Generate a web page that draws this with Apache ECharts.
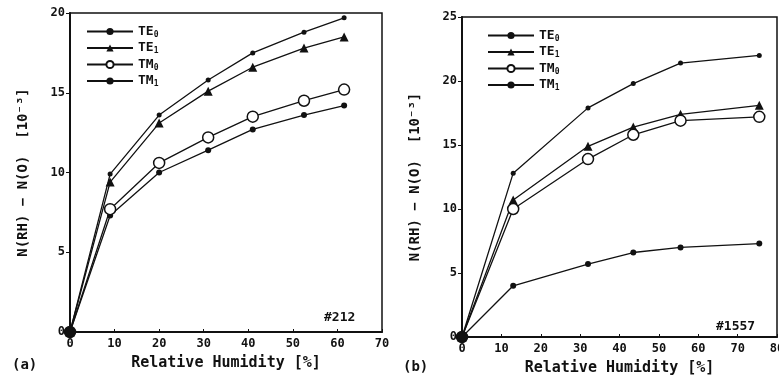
<!DOCTYPE html>
<html>
<head>
<meta charset="utf-8">
<script src="https://cdn.jsdelivr.net/npm/echarts@6/dist/echarts.min.js"></script>
<style>
  html, body { margin: 0; padding: 0; background: #fff; }
  #chart { width: 779px; height: 385px; }
</style>
</head>
<body>
<div id="chart"></div>
<script>
// panel (a) sample #212
const rhA = [0, 9, 20, 31, 41, 52.5, 61.5];
const te0A = [0, 9.9, 13.6, 15.8, 17.5, 18.8, 19.7];
const te1A = [0, 9.4, 13.1, 15.1, 16.6, 17.8, 18.5];
const tm0A = [0, 7.7, 10.6, 12.2, 13.5, 14.5, 15.2];
const tm1A = [0, 7.3, 10.0, 11.4, 12.7, 13.6, 14.2];

// panel (b) sample #1557
const rhB = [0, 13, 32, 43.5, 55.5, 75.5];
const te0B = [0, 12.8, 17.9, 19.8, 21.4, 22.0];
const te1B = [0, 10.7, 14.9, 16.4, 17.4, 18.1];
const tm0B = [0, 10.0, 13.9, 15.8, 16.9, 17.2];
const tm1B = [0, 4.0, 5.7, 6.6, 7.0, 7.3];

const seriesNames = ["TE0", "TE1", "TM0", "TM1"];

const FONT = "DejaVu Sans Mono";
const ink = "#111";

// origin is drawn as a solid dot in both panels
function pairs(xs, ys) {
  return xs.map((x, i) =>
    x === 0 ? { value: [x, ys[i]], itemStyle: { color: ink } } : [x, ys[i]]);
}

// marker look per mode
const markerStyle = {
  TE0: { symbol: "circle", symbolSize: 5, itemStyle: { color: ink } },
  TE1: { symbol: "triangle", symbolSize: 9, itemStyle: { color: ink } },
  TM0: { symbol: "circle", symbolSize: 11, itemStyle: { color: "#fff", borderColor: ink, borderWidth: 1.5 } },
  TM1: { symbol: "circle", symbolSize: 6, itemStyle: { color: ink } },
};

function makeSeries(name, idx, xs, ys) {
  return Object.assign({
    name: name,
    type: "line",
    xAxisIndex: idx,
    yAxisIndex: idx,
    data: pairs(xs, ys),
    lineStyle: { color: ink, width: 1.3 },
    showSymbol: true,
    animation: false,
    z: name === "TM0" ? 3 : 2,
  }, markerStyle[name]);
}

function xAxis(idx, max) {
  return {
    type: "value",
    gridIndex: idx,
    min: 0, max: max, interval: 10,
    name: "Relative Humidity [%]",
    nameLocation: "middle",
    nameGap: 24,
    nameTextStyle: { fontFamily: FONT, fontSize: 15, color: ink, fontWeight: "bold" },
    axisLine: { lineStyle: { color: ink, width: 2 } },
    axisTick: { inside: true, length: 3, lineStyle: { color: ink } },
    axisLabel: { fontFamily: FONT, fontSize: 12, fontWeight: "bold", color: ink, margin: 6 },
    splitLine: { show: false },
  };
}

function yAxis(idx, max) {
  return {
    type: "value",
    gridIndex: idx,
    min: 0, max: max, interval: 5,
    name: "N(RH) \u2212 N(O)  [10\u207B\u00B3]",
    nameLocation: "middle",
    nameGap: 40,
    nameRotate: 90,
    nameTextStyle: { fontFamily: FONT, fontSize: 14, color: ink, fontWeight: "bold" },
    axisLine: { lineStyle: { color: ink, width: 2 } },
    axisTick: { length: 4, lineStyle: { color: ink } },
    axisLabel: { fontFamily: FONT, fontSize: 12, fontWeight: "bold", color: ink, margin: 5 },
    splitLine: { show: false },
  };
}

function legend(left, top) {
  return {
    left: left, top: top,
    orient: "vertical",
    data: seriesNames,
    itemWidth: 46, itemHeight: 9,
    itemGap: 3,
    selectedMode: false,
    formatter: (n) => n.slice(0, 2) + "{s|" + n.slice(2) + "}",
    textStyle: {
      fontFamily: FONT, fontSize: 13, color: ink, fontWeight: "bold",
      rich: { s: { fontFamily: FONT, fontSize: 8, color: ink, fontWeight: "bold", verticalAlign: "bottom", padding: [6, 0, 0, 0] } },
    },
  };
}

const chart = echarts.init(document.getElementById("chart"));
chart.setOption({
  backgroundColor: "#fff",
  animation: false,
  grid: [
    { left: 70, top: 13, right: 397, bottom: 53, show: true, borderColor: ink, borderWidth: 1.5, outerBoundsMode: "none" },
    { left: 462, top: 17, right: 2, bottom: 48, show: true, borderColor: ink, borderWidth: 1.5, outerBoundsMode: "none" },
  ],
  xAxis: [xAxis(0, 70), xAxis(1, 80)],
  yAxis: [yAxis(0, 20), yAxis(1, 25)],
  legend: [legend(81, 20), legend(482, 24)],
  series: [
    makeSeries("TE0", 0, rhA, te0A),
    makeSeries("TE1", 0, rhA, te1A),
    makeSeries("TM0", 0, rhA, tm0A),
    makeSeries("TM1", 0, rhA, tm1A),
    makeSeries("TE0", 1, rhB, te0B),
    makeSeries("TE1", 1, rhB, te1B),
    makeSeries("TM0", 1, rhB, tm0B),
    makeSeries("TM1", 1, rhB, tm1B),
  ],
  graphic: [
    { type: "text", left: 12, top: 358, style: { text: "(a)", font: "bold 14px " + FONT, fill: ink } },
    { type: "text", left: 403, top: 360, style: { text: "(b)", font: "bold 14px " + FONT, fill: ink } },
    { type: "text", left: 324, top: 311, style: { text: "#212", font: "bold 13px " + FONT, fill: ink } },
    { type: "text", left: 716, top: 320, style: { text: "#1557", font: "bold 13px " + FONT, fill: ink } },
  ],
});
</script>
</body>
</html>
